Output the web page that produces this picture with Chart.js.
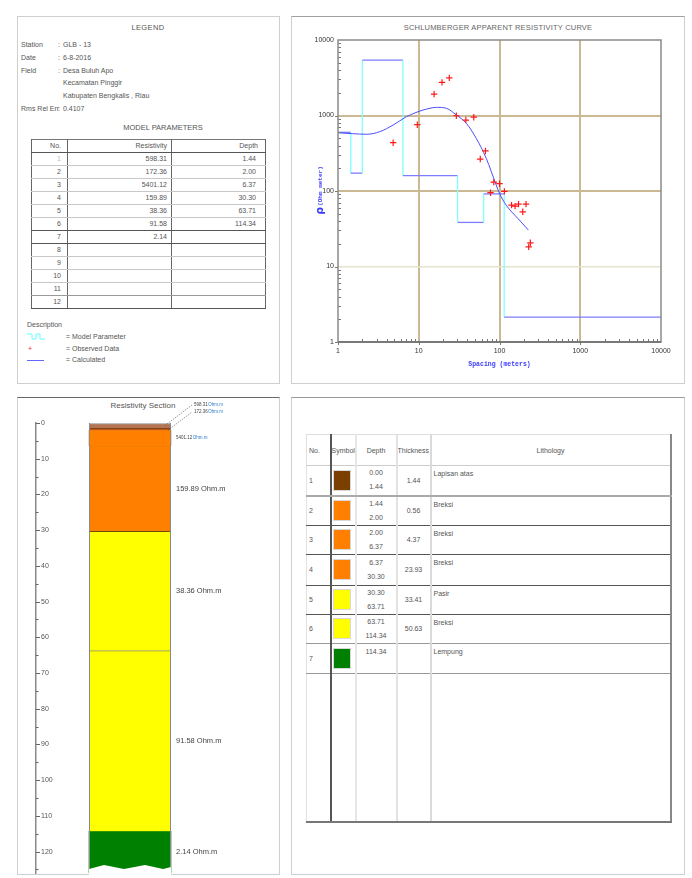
<!DOCTYPE html>
<html>
<head>
<meta charset="utf-8">
<script src="https://cdn.jsdelivr.net/npm/chart.js@4.4.1/dist/chart.umd.min.js"></script>
<style>
  body{margin:0;width:692px;height:878px;position:relative;overflow:hidden;background:#fff;
       font-family:"Liberation Sans",Arial,sans-serif;color:#555}
  .panel{position:absolute;box-sizing:border-box;border:1px solid #cfcfcf}
  .t{position:absolute;font-size:7px;line-height:8px;white-space:nowrap}
  .c{transform:translateX(-50%)}
  canvas{position:absolute}
  table{border-collapse:collapse;table-layout:fixed;font-size:7px;color:#555}
  table.mp{position:absolute;left:31px;top:139px;width:234px;border-top:1px solid #777}
  table.mp td{height:12px;line-height:12px;padding:0 4px 0 0;text-align:right;white-space:nowrap;overflow:hidden;
              border-left:1px solid #666;border-right:1px solid #666;border-bottom:1px solid #c8c8c8}
  table.mp td.n{padding-right:6px}
  table.mp td.d{padding-right:9px}
  table.mp tr.dk td{border-bottom-color:#555}
  table.mp tr.md td{border-bottom-color:#999}
  table.lt{position:absolute;left:306px;top:434px;width:364px;border-top:1px solid #ddd;border-left:1px solid #e2e2e2}
  table.lt td{padding:0;white-space:nowrap;overflow:hidden;vertical-align:middle;border-bottom:1px solid #555}
  table.lt td.c0{border-right:2px solid #555;padding-left:2px}
  table.lt td.c1{border-right:2px solid #e6e6e6}
  table.lt td.c2{border-right:2px solid #e2e2e2;text-align:center}
  table.lt td.c3{border-right:2px solid #dadada;text-align:center}
  table.lt td.c4{border-right:2px solid #888;vertical-align:top;padding:4px 0 0 2px}
  table.lt tr.hd td{border-bottom:1px solid #ccc;vertical-align:middle}
  table.lt tr.hd td.c4{text-align:center;padding:0}
  table.lt tr.r1 td{border-bottom:2px solid #aaa}
  table.lt tr.lg td{border-bottom-color:#999}
  table.lt tr.last td{border-bottom:2px solid #777}
  .sym{width:18px;height:21px;border:1px solid #d8d8d8;margin-left:1px;box-sizing:border-box}
  .dep{line-height:14px}
</style>
</head>
<body>
<div class="panel" style="left:17px;top:16px;width:263px;height:368px"></div>
<div class="panel" style="left:291px;top:16px;width:394px;height:368px;border-top-color:#a0a0a0"></div>
<div class="panel" style="left:17px;top:397px;width:263px;height:478px;border-top-color:#666"></div>
<div class="panel" style="left:291px;top:397px;width:394px;height:478px;border-top-color:#999"></div>

<!-- legend panel -->
<div class="t c" style="left:148px;top:24px;font-size:7.5px;letter-spacing:0.4px">LEGEND</div>
<div id="info"></div>
<div class="t c" style="left:163px;top:124px;font-size:7.5px">MODEL PARAMETERS</div>
<div class="t" style="left:27px;top:321px">Description</div>
<svg style="position:absolute;left:26px;top:333px" width="20" height="7">
  <polyline points="1,1 6,1 6,6 10,6 10,1 14,1 14,6 19,6" fill="none" stroke="#6ff" stroke-width="1"/>
</svg>
<div class="t" style="left:66px;top:333px">= Model Parameter</div>
<div class="t" style="left:28px;top:345px;color:#f22">+</div>
<div class="t" style="left:66px;top:345px">= Observed Data</div>
<div style="position:absolute;left:27px;top:360px;width:17px;height:1px;background:#66f"></div>
<div class="t" style="left:66px;top:356px">= Calculated</div>

<!-- curve panel -->
<div class="t c" style="left:498px;top:24px;font-size:7.5px;letter-spacing:0.2px;color:#666">SCHLUMBERGER APPARENT RESISTIVITY CURVE</div>
<canvas id="curve" width="392" height="365" style="left:292px;top:17px"></canvas>

<!-- section panel -->
<div class="t c" style="left:143px;top:402px;font-size:8px">Resistivity Section</div>
<canvas id="section" width="263" height="486" style="left:17px;top:397px"></canvas>

<script>
// ---- layer model ----
const layerNo = [1, 2, 3, 4, 5, 6, 7];
const resistivity = [598.31, 172.36, 5401.12, 159.89, 38.36, 91.58, 2.14];
const layerBottom = [1.44, 2.00, 6.37, 30.30, 63.71, 114.34];
const thickness = [1.44, 0.56, 4.37, 23.93, 33.41, 50.63];
const lithology = ['Lapisan atas', 'Breksi', 'Breksi', 'Breksi', 'Pasir', 'Breksi', 'Lempung'];

// ---- sounding data (AB/2 spacing in m, apparent resistivity in Ohm.m) ----
const obsSpacing = [4.82, 9.6, 15.5, 19.4, 23.9, 29.2, 38.3, 48, 57.8, 67, 77.4, 85, 100, 115, 141, 156, 172, 194, 213, 230, 241];
const obsRho     = [436, 755, 1920, 2750, 3150, 993, 871, 950, 265, 339, 95, 131, 125, 99, 65, 63, 67, 53, 67, 18.2, 20.6];
const calcSpacing = [1, 1.5, 2.26, 3.3, 4.82, 7.05, 9.8, 13, 16.5, 22, 29.2, 38.8, 51.5, 68.5, 91, 100, 121, 168, 228];
const calcRho     = [590, 575, 564, 611, 748, 964, 1122, 1230, 1283, 1245, 1016, 788, 499, 271, 120, 93, 65, 43.5, 30.4];

// ---- station info ----
const infoLabels = ['Station', 'Date', 'Field', '', '', 'Rms Rel Err'];
const infoValues = ['GLB - 13', '6-8-2016', 'Desa Buluh Apo', 'Kecamatan Pinggir', 'Kabupaten Bengkalis , Riau', '0.4107'];

// ---- axis ticks ----
const decadeTicks = [1, 10, 100, 1000, 10000];
const depthMarks = [0,5,10,15,20,25,30,35,40,45,50,55,60,65,70,75,80,85,90,95,100,105,110,115,120,125];
const sectionMaxDepth = 126;

// ---- colours ----
const symbolColors = ['#7b3f00', '#ff8000', '#ff8000', '#ff8000', '#ffff00', '#ffff00', '#008000'];
const sectionColors = ['#b57552', '#b8581c', '#ff8000', '#ff8000', '#ffff00', '#ffff00', '#008000'];
const sectionEdges = ['#8a8a8a', '#6b3410', '#7a3a10', '#e87800', '#5a4010', '#5a5a20', '#2f6a00'];

// station info lines
(function(){
  const box = document.getElementById('info');
  const ys = [45, 58, 71, 83, 96, 109];
  infoLabels.forEach((lab, i) => {
    const y = ys[i] - 4;
    if (lab) {
      box.insertAdjacentHTML('beforeend', `<div class="t" style="left:21px;top:${y}px">${lab}</div>`);
      box.insertAdjacentHTML('beforeend', `<div class="t" style="left:58px;top:${y}px">:</div>`);
    }
    box.insertAdjacentHTML('beforeend', `<div class="t" style="left:63px;top:${y}px">${infoValues[i]}</div>`);
  });
})();

// model parameter table
(function(){
  let h = '<colgroup><col style="width:36px"><col style="width:104px"><col style="width:94px"></colgroup>';
  h += '<tr class="dk"><td class="n">No.</td><td>Resistivity</td><td class="d" style="padding-right:7px">Depth</td></tr>';
  for (let i = 0; i < 12; i++) {
    const cls = (i === 5 || i === 6 || i === 11) ? 'dk' : (i === 10 ? 'md' : '');
    const r = i < resistivity.length ? resistivity[i].toFixed(2) : '';
    const d = i < layerBottom.length ? layerBottom[i].toFixed(2) : '';
    const nStyle = i === 0 ? ' style="color:#bbb"' : '';
    h += `<tr class="${cls}"><td class="n"${nStyle}>${i + 1}</td><td>${r}</td><td class="d">${d}</td></tr>`;
  }
  const t = document.createElement('table');
  t.className = 'mp';
  t.innerHTML = h;
  document.body.appendChild(t);
})();

// lithology table
(function(){
  const rowH = [31, 30, 29, 29, 31, 29, 29, 30];
  let h = '<colgroup><col style="width:24px"><col style="width:25px"><col style="width:41px"><col style="width:34px"><col style="width:240px"></colgroup>';
  h += `<tr class="hd" style="height:${rowH[0]}px"><td class="c0">No.</td><td class="c1">Symbol</td><td class="c2">Depth</td><td class="c3" style="text-align:left">Thickness</td><td class="c4">Lithology</td></tr>`;
  layerNo.forEach((n, i) => {
    const top = i === 0 ? 0 : layerBottom[i - 1];
    const bot = i < layerBottom.length ? layerBottom[i].toFixed(2) : '&nbsp;';
    const th = i < thickness.length ? thickness[i].toFixed(2) : '';
    const cls = i === 0 ? 'r1' : (i >= 5 ? 'lg' : '');
    const va = i === 6 ? 'vertical-align:top;padding-top:1px' : '';
    h += `<tr class="${cls}" style="height:${rowH[i + 1]}px"><td class="c0">${n}</td>` +
         `<td class="c1"><div class="sym" style="background:${symbolColors[i]}"></div></td>` +
         `<td class="c2" style="${va}"><div class="dep">${top.toFixed(2)}<br>${bot}</div></td>` +
         `<td class="c3">${th}</td><td class="c4">${lithology[i]}</td></tr>`;
  });
  h += '<tr class="last" style="height:149px"><td class="c0"></td><td class="c1"></td><td class="c2"></td><td class="c3"></td><td class="c4"></td></tr>';
  const t = document.createElement('table');
  t.className = 'lt';
  t.innerHTML = h;
  document.body.appendChild(t);
})();

// ---------- apparent resistivity curve ----------
const modelPts = [];
(function(){
  let x0 = 1;
  resistivity.forEach((r, i) => {
    const x1 = i < layerBottom.length ? layerBottom[i] : 10000;
    modelPts.push({x: x0, y: r}, {x: x1, y: r});
    x0 = x1;
  });
})();

const curveFrame = {
  id: 'curveFrame',
  afterDraw(chart) {
    const {ctx, chartArea: a, scales: {x, y}} = chart;
    ctx.save();
    ctx.strokeStyle = '#777';
    ctx.lineWidth = 1;
    for (let e = 0; e < 4; e++) {
      for (let m = 1; m < 10; m++) {
        const v = m * Math.pow(10, e);
        const px = Math.round(x.getPixelForValue(v)) + 0.5;
        const py = Math.round(y.getPixelForValue(v)) + 0.5;
        ctx.beginPath();
        if (m === 1) {
          ctx.moveTo(px, a.bottom); ctx.lineTo(px, a.bottom + 3);
          ctx.moveTo(a.left - 3, py); ctx.lineTo(a.left, py);
        } else {
          ctx.moveTo(px, a.bottom); ctx.lineTo(px, a.bottom - 3);
          ctx.moveTo(a.left, py); ctx.lineTo(a.left + 3, py);
        }
        ctx.stroke();
      }
    }
    ctx.strokeStyle = '#8a8a8a';
    ctx.lineWidth = 1.5;
    ctx.strokeRect(a.left, a.top, a.right - a.left, a.bottom - a.top);
    ctx.strokeStyle = '#6a6a6a';
    ctx.beginPath(); ctx.moveTo(a.left, a.bottom); ctx.lineTo(a.right, a.bottom); ctx.stroke();

    // rotated y-axis title
    ctx.translate(28, (a.top + a.bottom) / 2);
    ctx.rotate(-Math.PI / 2);
    ctx.fillStyle = '#3a3aff';
    ctx.textBaseline = 'middle';
    const f1 = 'bold 11px "DejaVu Sans"', f2 = 'bold 6px "Liberation Mono"';
    ctx.font = f1; const w1 = ctx.measureText('ρ').width;
    ctx.font = f2; const w2 = ctx.measureText('(Ohm meter)').width;
    const sx = -(w1 + w2) / 2;
    ctx.font = f1; ctx.fillText('ρ', sx, 0);
    ctx.font = f2; ctx.fillText('(Ohm meter)', sx + w1 + 1, 0);
    ctx.restore();
  }
};

const decadeGrid = (edgeA, edgeB, light) => c => {
  const v = c.tick ? c.tick.value : 0;
  if (v === edgeA || v === edgeB) return 'rgba(0,0,0,0)';
  if (light && v === light) return '#e6e2cc';
  return '#cbb994';
};

new Chart(document.getElementById('curve'), {
  type: 'scatter',
  data: {
    datasets: [
      {
        label: 'Observed Data',
        data: obsSpacing.map((s, i) => ({x: s, y: obsRho[i]})),
        pointStyle: 'cross', pointRadius: 3.2, borderColor: '#ff1a1a', backgroundColor: '#ff1a1a',
        borderWidth: 1.2, showLine: false, order: 0
      },
      {
        label: 'Calculated',
        data: calcSpacing.map((s, i) => ({x: s, y: calcRho[i]})),
        showLine: true, borderColor: '#4d4dff', borderWidth: 1, pointRadius: 0,
        cubicInterpolationMode: 'monotone', order: 1
      },
      {
        label: 'Model Parameter',
        data: modelPts,
        showLine: true, pointRadius: 0, borderWidth: 1.3, borderColor: '#80ffff',
        segment: {borderColor: c => c.p0.parsed.y === c.p1.parsed.y ? '#7d7dff' : '#80ffff'},
        order: 2
      }
    ]
  },
  options: {
    responsive: false, animation: false, devicePixelRatio: 1,
    layout: {padding: {left: 0, top: 23, right: 23, bottom: 0}},
    plugins: {legend: {display: false}, tooltip: {enabled: false}},
    scales: {
      x: {
        type: 'logarithmic', min: 1, max: 10000,
        afterBuildTicks: s => { s.ticks = decadeTicks.map(v => ({value: v})); },
        afterFit: s => { s.height = 40; },
        grid: {drawTicks: false, color: decadeGrid(1, 10000, null), lineWidth: 2},
        border: {display: false},
        ticks: {padding: 5, color: '#333', font: {size: 7, family: 'Liberation Sans'}, autoSkip: false, maxRotation: 0,
                callback: v => String(v)},
        title: {display: true, text: 'Spacing (meters)', color: '#3a3aff',
                font: {family: 'Liberation Mono', size: 6.5, weight: 'bold'}, padding: {top: 0, bottom: 14}}
      },
      y: {
        type: 'logarithmic', min: 1, max: 10000,
        afterBuildTicks: s => { s.ticks = decadeTicks.map(v => ({value: v})); },
        afterFit: s => { s.width = 46; },
        grid: {drawTicks: false, color: decadeGrid(1, 10000, 10), lineWidth: c => (c.tick && c.tick.value === 10) ? 1.5 : 2},
        border: {display: false},
        ticks: {padding: 4, color: '#333', font: {size: 7, family: 'Liberation Sans'}, autoSkip: false,
                callback: v => String(v)}
      }
    }
  },
  plugins: [curveFrame]
});

// ---------- resistivity section ----------
const layerTop = [0].concat(layerBottom);
const layerBase = layerBottom.concat([sectionMaxDepth]);

const sectionDecor = {
  id: 'sectionDecor',
  afterDatasetsDraw(chart) {
    const {ctx, chartArea: a, scales: {y}} = chart;
    const bar = chart.getDatasetMeta(0).data[0].getProps(['x', 'width'], true);
    const xl = bar.x - bar.width / 2, xr = bar.x + bar.width / 2;
    const yTop = y.getPixelForValue(0), yBot = y.getPixelForValue(sectionMaxDepth);
    ctx.save();

    // ragged base of the column
    const zig = [[xl, yBot - 4], [xl + 15, yBot - 8], [xl + 35, yBot - 4], [xl + 56, yBot - 8], [xl + 74, yBot - 4], [xr, yBot - 6]];
    ctx.fillStyle = '#fff';
    ctx.beginPath();
    ctx.moveTo(xl, yBot + 2);
    zig.forEach(p => ctx.lineTo(p[0], p[1]));
    ctx.lineTo(xr, yBot + 2);
    ctx.closePath();
    ctx.fill();

    // column sides
    ctx.strokeStyle = '#8a8a8a';
    ctx.lineWidth = 1;
    ctx.beginPath();
    ctx.moveTo(Math.round(xl) + 0.5, yTop); ctx.lineTo(Math.round(xl) + 0.5, yBot - 4);
    ctx.moveTo(Math.round(xr) - 0.5, yTop); ctx.lineTo(Math.round(xr) - 0.5, yBot - 6);
    ctx.stroke();

    // depth tick marks
    ctx.strokeStyle = '#666';
    depthMarks.forEach(v => {
      const py = Math.round(y.getPixelForValue(v)) + 0.5;
      ctx.beginPath();
      ctx.moveTo(a.left, py);
      ctx.lineTo(a.left + (v % 10 === 0 ? 4 : 2.5), py);
      ctx.stroke();
    });

    // resistivity labels of the thick layers
    ctx.fillStyle = '#444';
    ctx.textBaseline = 'middle';
    ctx.font = '7.5px "Liberation Sans"';
    for (let i = 3; i < resistivity.length; i++) {
      const mid = (layerTop[i] + layerBase[i]) / 2;
      ctx.fillText(resistivity[i].toFixed(2) + ' Ohm.m', xr + 5, y.getPixelForValue(mid));
    }

    // small labels for the thin top layers
    const small = (val, px, py) => {
      ctx.font = '4.5px "Liberation Sans"';
      ctx.fillStyle = '#444';
      const s = val.toFixed(2);
      ctx.fillText(s, px, py);
      const w = ctx.measureText(s).width;
      ctx.fillStyle = '#2a78d0';
      ctx.fillText('Ohm.m', px + w + 0.5, py);
    };
    ctx.strokeStyle = '#555';
    ctx.lineWidth = 0.6;
    ctx.setLineDash([1.5, 1]);
    const m1 = y.getPixelForValue((layerTop[0] + layerBase[0]) / 2);
    const m2 = y.getPixelForValue((layerTop[1] + layerBase[1]) / 2);
    ctx.beginPath();
    ctx.moveTo(xr - 6, m1); ctx.lineTo(xr + 21, yTop - 18);
    ctx.moveTo(xr - 3, m2 + 1); ctx.lineTo(xr + 21, yTop - 11);
    ctx.stroke();
    ctx.setLineDash([]);
    small(resistivity[0], xr + 23, yTop - 18);
    small(resistivity[1], xr + 23, yTop - 11);
    small(resistivity[2], xr + 5, y.getPixelForValue((layerTop[2] + layerBase[2]) / 2));
    ctx.restore();
  }
};

new Chart(document.getElementById('section'), {
  type: 'bar',
  data: {
    labels: [''],
    datasets: resistivity.map((r, i) => ({
      label: 'Layer ' + layerNo[i],
      data: [[layerTop[i], layerBase[i]]],
      backgroundColor: sectionColors[i],
      borderColor: sectionEdges[i],
      borderWidth: {top: i === 2 || i === 6 ? 0 : 1, right: 0, bottom: 0, left: 0},
      borderSkipped: false,
      grouped: false,
      barThickness: 82
    }))
  },
  options: {
    responsive: false, animation: false, devicePixelRatio: 1,
    layout: {padding: {left: 0, top: 26, right: 56, bottom: 10}},
    plugins: {legend: {display: false}, tooltip: {enabled: false}},
    scales: {
      x: {display: false},
      y: {
        min: 0, max: sectionMaxDepth, reverse: true,
        afterBuildTicks: s => { s.ticks = depthMarks.filter(v => v % 10 === 0).map(v => ({value: v})); },
        afterFit: s => { s.width = 19; },
        grid: {drawOnChartArea: false, drawTicks: false},
        border: {display: true, color: '#8a8a8a', width: 1.5},
        ticks: {mirror: true, padding: 5, autoSkip: false, color: '#555',
                font: {size: 7, family: 'Liberation Sans'}, callback: v => String(v)}
      }
    }
  },
  plugins: [sectionDecor]
});
</script>
</body>
</html>
